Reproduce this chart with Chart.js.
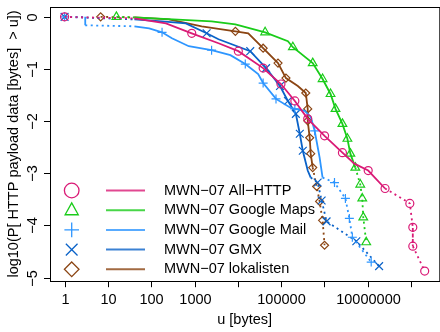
<!DOCTYPE html>
<html>
<head>
<meta charset="utf-8">
<script src="https://cdn.jsdelivr.net/npm/chart.js@4.4.1/dist/chart.umd.min.js"></script>
<style>
html, body { margin: 0; padding: 0; background: #fff; overflow: hidden; }
#wrap { position: relative; width: 446px; height: 332px; }
</style>
</head>
<body>
<div id="wrap"><canvas id="ccdf"></canvas></div>
<script>
// values: u in bytes, log10 of CCDF
const seriesNames = ['MWN\u221207 All\u2212HTTP', 'MWN\u221207 Google Maps', 'MWN\u221207 Google Mail', 'MWN\u221207 GMX', 'MWN\u221207 lokalisten']

const httpU = [1, 41, 219, 863, 3580, 10260, 38350, 98900, 207000, 410400, 1004600, 2595000, 4887000, 10210000, 25020000, 61230000, 93290000, 109300000, 109300000, 205600000]
const httpP = [0, -0.03, -0.124, -0.315, -0.506, -0.658, -0.983, -1.288, -1.613, -1.956, -2.281, -2.605, -2.815, -2.948, -3.292, -3.483, -3.578, -4.036, -4.399, -4.876]
const httpMarks = [0, 3, 5, 6, 7, 8, 9, 10, 11, 13, 14, 16, 17, 18, 19]

const mapsU = [15.7, 41, 2476, 8770, 42590, 143100, 186200, 534500, 903600, 1380000, 1795000, 2595000, 3380000, 3955000, 5152000, 6700000, 7447000, 7852000, 9191000]
const mapsP = [0, -0.01, -0.086, -0.143, -0.296, -0.468, -0.582, -0.887, -1.193, -1.479, -1.765, -2.052, -2.338, -2.624, -2.891, -3.216, -3.483, -3.845, -4.323]
const mapsMarks = [0, 4, 6, 7, 8, 9, 10, 11, 12, 13, 14, 15, 16, 17, 18]

const mailU = [1, 3, 3, 41, 90, 178, 301, 737, 2476, 6736, 14850, 29440, 38350, 76000, 167600, 207000, 350600, 480800, 593600, 772700, 903600, 1702000, 3040000, 3750000, 4397000, 11970000]
const mailP = [0, 0, -0.162, -0.181, -0.219, -0.296, -0.41, -0.563, -0.639, -0.735, -0.906, -1.097, -1.269, -1.574, -1.746, -1.765, -1.803, -1.918, -2.185, -2.7, -3.082, -3.178, -3.483, -3.865, -4.227, -4.704]
const mailMarks = [0, 5, 8, 10, 12, 13, 15, 18, 21, 22, 23, 24, 25]

const gmxU = [1, 41, 178, 630, 1903, 3580, 19330, 44900, 93900, 143100, 218200, 269200, 315400, 410400, 480800, 695000, 859000, 1117000, 5432000, 18240000]
const gmxP = [0, -0.048, -0.086, -0.124, -0.315, -0.429, -0.658, -0.983, -1.326, -1.613, -1.861, -2.242, -2.567, -2.948, -3.082, -3.178, -3.521, -3.922, -4.303, -4.781]
const gmxMarks = [0, 4, 6, 7, 8, 9, 10, 11, 12, 15, 16, 17, 18, 19]

const lokU = [6.8, 41, 257, 1462, 8770, 17400, 38350, 84500, 128800, 242300, 369700, 410400, 410400, 456100, 480800, 534500, 659200, 772700, 903600, 1004600]
const lokP = [0, -0.01, -0.048, -0.181, -0.277, -0.315, -0.601, -0.887, -1.174, -1.326, -1.46, -1.765, -1.994, -2.319, -2.624, -2.891, -3.254, -3.54, -3.903, -4.38]
const lokMarks = [0, 4, 6, 7, 8, 10, 11, 12, 13, 14, 15, 16, 17, 18, 19]

const xTicks = [1, 10, 100, 1000, 10000, 100000, 1000000, 10000000, 100000000]
const xTickLabels = ['1', '10', '100', '1000', '', '100000', '', '10000000', '']
const yTicks = [0, -1, -2, -3, -4, -5]
const yTickLabels = ['0', '\u22121', '\u22122', '\u22123', '\u22124', '\u22125']

const FONT = '14.5px "Liberation Sans", Arial, sans-serif'

const makeSet = (i, us, ps, marks, color, shape, r, dotted) => ({
    label: seriesNames[i],
    data: us.map((u, k) => ({ x: u, y: ps[k] })),
    borderColor: color,
    borderWidth: 1.8,
    pointStyle: shape,
    pointRadius: ctx => marks.includes(ctx.dataIndex) ? r : 0,
    pointBorderColor: color,
    pointBackgroundColor: 'rgba(0,0,0,0)',
    pointBorderWidth: 1.2,
    shape: shape,
    tension: 0,
    segment: {
        borderDash: ctx => dotted.some(d => ctx.p0DataIndex >= d[0] && ctx.p0DataIndex < d[1]) ? [2, 3.5] : undefined
    }
})

const colors = ['#DA1A76', '#1ACC1A', '#2E96FF', '#0A62C8', '#8B4513']

const drawShape = (ctx, shape, x, y, r) => {
    ctx.beginPath()
    if (shape === 'circle') {
        ctx.arc(x, y, r, 0, Math.PI * 2)
    } else if (shape === 'triangle') {
        ctx.moveTo(x, y - r)
        ctx.lineTo(x + r * 0.9, y + r * 0.62)
        ctx.lineTo(x - r * 0.9, y + r * 0.62)
        ctx.closePath()
    } else if (shape === 'cross') {
        ctx.moveTo(x - r, y); ctx.lineTo(x + r, y)
        ctx.moveTo(x, y - r); ctx.lineTo(x, y + r)
    } else if (shape === 'crossRot') {
        const d = r * 0.8
        ctx.moveTo(x - d, y - d); ctx.lineTo(x + d, y + d)
        ctx.moveTo(x + d, y - d); ctx.lineTo(x - d, y + d)
    } else {
        ctx.moveTo(x, y - r); ctx.lineTo(x + r, y)
        ctx.lineTo(x, y + r); ctx.lineTo(x - r, y)
        ctx.closePath()
    }
    ctx.stroke()
}

const axesPlugin = {
    id: 'rAxes',
    afterDraw(chart) {
        const ctx = chart.ctx
        const { left, right, top, bottom } = chart.chartArea
        const xs = chart.scales.x
        const ys = chart.scales.y
        ctx.save()
        ctx.strokeStyle = '#000'
        ctx.fillStyle = '#000'
        ctx.lineWidth = 1
        ctx.strokeRect(Math.round(left) + 0.5, Math.round(top) + 0.5, right - left, Math.round(bottom) - Math.round(top))
        ctx.font = FONT
        ctx.textAlign = 'center'
        ctx.textBaseline = 'middle'
        xTicks.forEach((v, i) => {
            const px = Math.round(xs.getPixelForValue(v)) + 0.5
            ctx.beginPath()
            ctx.moveTo(px, bottom)
            ctx.lineTo(px, bottom + 6)
            ctx.stroke()
            if (xTickLabels[i]) ctx.fillText(xTickLabels[i], px, bottom + 19)
        })
        yTicks.forEach((v, i) => {
            const py = Math.round(ys.getPixelForValue(v)) + 0.5
            ctx.beginPath()
            ctx.moveTo(left, py)
            ctx.lineTo(left - 6, py)
            ctx.stroke()
            ctx.save()
            ctx.translate(left - 17, py)
            ctx.rotate(-Math.PI / 2)
            ctx.fillText(yTickLabels[i], 0, 0)
            ctx.restore()
        })
        ctx.fillText('u [bytes]', (left + right) / 2, bottom + 39)
        ctx.save()
        ctx.translate(14, (top + bottom) / 2)
        ctx.rotate(-Math.PI / 2)
        ctx.fillText('log10(P[ HTTP payload data [bytes]  > u])', 0, 0)
        ctx.restore()

        // legend
        chart.data.datasets.forEach((ds, i) => {
            const ly = 190.5 + i * 19.7
            ctx.strokeStyle = ds.borderColor
            ctx.lineWidth = 1.3
            drawShape(ctx, ds.shape, 71.7, ly, 7.3)
            ctx.lineWidth = 2
            ctx.globalAlpha = 0.8
            ctx.beginPath()
            ctx.moveTo(106, ly)
            ctx.lineTo(145, ly)
            ctx.stroke()
            ctx.globalAlpha = 1
            ctx.textAlign = 'left'
            ctx.fillStyle = '#000'
            ctx.fillText(ds.label, 164, ly)
        })
        ctx.restore()
    }
}

new Chart(document.getElementById('ccdf'), {
    type: 'line',
    data: {
        datasets: [
            makeSet(0, httpU, httpP, httpMarks, colors[0], 'circle', 4, [[0, 1], [14, 99]]),
            makeSet(1, mapsU, mapsP, mapsMarks, colors[1], 'triangle', 5, [[0, 1], [14, 99]]),
            makeSet(2, mailU, mailP, mailMarks, colors[2], 'cross', 4.5, [[0, 1], [2, 3], [20, 99]]),
            makeSet(3, gmxU, gmxP, gmxMarks, colors[3], 'crossRot', 5.5, [[0, 1], [14, 99]]),
            makeSet(4, lokU, lokP, lokMarks, colors[4], 'rectRot', 4, [[0, 1], [15, 99]])
        ]
    },
    options: {
        responsive: true,
        maintainAspectRatio: false,
        animation: false,
        layout: { padding: { left: 50, top: 5.3, right: 3.3, bottom: 50.8 } },
        scales: {
            x: { type: 'logarithmic', min: 0.461, max: 447000000, display: false },
            y: { type: 'linear', min: -5.07, max: 0.195, display: false }
        },
        plugins: {
            legend: { display: false },
            tooltip: { enabled: false }
        }
    },
    plugins: [axesPlugin]
})
</script>
</body>
</html>
